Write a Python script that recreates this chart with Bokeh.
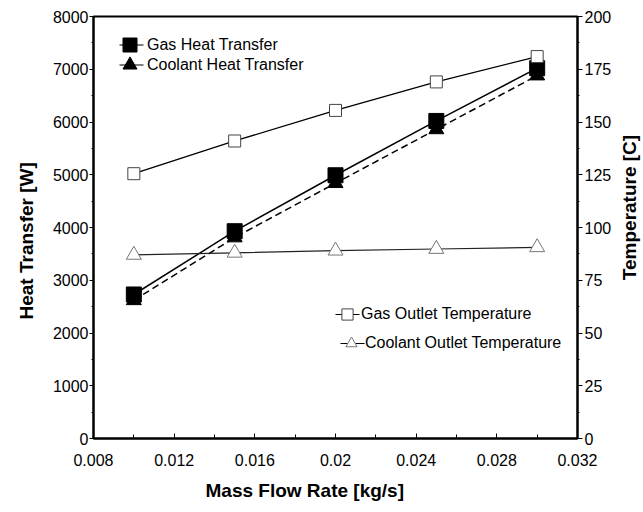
import math
from bokeh.plotting import figure
from bokeh.models import LinearAxis, Range1d, Legend, LegendItem, SingleIntervalTicker, Title, Label
from bokeh.embed import file_html
from bokeh.resources import INLINE

# ---- data ----
mass_flow = [0.010, 0.015, 0.020, 0.025, 0.030]
gas_heat = [2730, 3930, 4990, 6020, 7020]
coolant_heat = [2620, 3810, 4840, 5860, 6880]
gas_outlet_temp = [125.5, 141.0, 155.5, 169.0, 181.0]
coolant_outlet_temp = [87.0, 88.0, 89.0, 89.8, 90.6]

x_label = "Mass Flow Rate  [kg/s]"
y_label = "Heat Transfer  [W]"
y2_label = "Temperature [C]"

FONT = "Liberation Sans"

p = figure(width=643, height=512, output_backend="svg", toolbar_location=None,
           x_range=Range1d(0.008, 0.032), y_range=Range1d(0, 8000),
           min_border_left=93, min_border_right=66, min_border_top=16, min_border_bottom=74)
p.extra_y_ranges = {"temp": Range1d(0, 200)}

p.xgrid.visible = False
p.ygrid.visible = False
p.outline_line_color = "black"
p.outline_line_width = 2
p.background_fill_color = "white"
p.border_fill_color = "white"

# x axis
xa = p.xaxis[0]
xa.ticker = SingleIntervalTicker(interval=0.004, num_minor_ticks=2)
xa.major_label_overrides = {0.008: "0.008", 0.012: "0.012", 0.016: "0.016", 0.02: "0.02",
                            0.024: "0.024", 0.028: "0.028", 0.032: "0.032"}

# left axis
ya = p.yaxis[0]
ya.ticker = SingleIntervalTicker(interval=1000, num_minor_ticks=2)

# right axis with ticks
ra = LinearAxis(y_range_name="temp", ticker=SingleIntervalTicker(interval=25, num_minor_ticks=2))
p.add_layout(ra, "right")

for ax in (xa, ya, ra):
    ax.axis_line_color = "black"
    ax.axis_line_width = 2
    ax.major_tick_line_color = "black"
    ax.minor_tick_line_color = "black"
    ax.major_tick_line_width = 1
    ax.minor_tick_line_width = 1
    ax.major_label_text_font = FONT
    ax.major_label_text_font_size = "16px"
    ax.major_label_text_color = "black"

xa.major_tick_in = 5
xa.major_tick_out = 0
xa.minor_tick_in = 4
xa.minor_tick_out = 0
xa.major_label_standoff = 15

ya.major_tick_in = 0
ya.major_tick_out = 4
ya.minor_tick_in = 0
ya.minor_tick_out = 2
ya.major_label_standoff = 1

ra.major_tick_in = 0
ra.major_tick_out = 5
ra.minor_tick_in = 0
ra.minor_tick_out = 2
ra.major_label_standoff = 2

# right-hand title (reads bottom-to-top), placed in the right side panel
rlab = Label(x=15, y=231, x_units="screen", y_units="screen", text=y2_label, angle=math.pi / 2,
             text_font=FONT, text_font_style="bold", text_font_size="19px", text_color="black",
             text_align="center", text_baseline="middle")
p.add_layout(rlab, "right")

# x and left axis titles
def side_title(text, offset, standoff):
    return Title(text=text, align="left", offset=offset, standoff=standoff,
                 text_font=FONT, text_font_style="bold", text_font_size="19px",
                 text_color="black")

p.add_layout(side_title(x_label, 112, 18), "below")
p.add_layout(side_title(y_label, 119, 26), "left")

# series
l1 = p.line(mass_flow, gas_heat, line_color="black", line_width=1.5)
s1 = p.scatter(mass_flow, gas_heat, marker="square", size=15, fill_color="black", line_color="black")
l2 = p.line(mass_flow, coolant_heat, line_color="black", line_width=1.5, line_dash="7 4")
s2 = p.scatter(mass_flow, coolant_heat, marker="triangle", size=15, fill_color="black", line_color="black")
l3 = p.line(mass_flow, gas_outlet_temp, line_color="black", line_width=1.3, y_range_name="temp")
s3 = p.scatter(mass_flow, gas_outlet_temp, marker="square", size=12, fill_color="white",
               line_color="#444444", line_width=1, y_range_name="temp")
l4 = p.line(mass_flow, coolant_outlet_temp, line_color="#222222", line_width=1.2, y_range_name="temp")
s4 = p.scatter(mass_flow, coolant_outlet_temp, marker="triangle", size=15, fill_color="white",
               line_color="#777777", line_width=1, y_range_name="temp")

# hidden copies of the lines, used only for short legend line stubs
k1 = p.line(mass_flow, gas_heat, line_color="black", line_width=1.2, line_dash="0 7 24 100", visible=False)
k2 = p.line(mass_flow, coolant_heat, line_color="black", line_width=1.2, line_dash="0 7 24 100", visible=False)
k3 = p.line(mass_flow, gas_outlet_temp, line_color="black", line_width=1.1, line_dash="0 2 24 100",
            y_range_name="temp", visible=False)
k4 = p.line(mass_flow, coolant_outlet_temp, line_color="black", line_width=1.1, line_dash="0 3 24 100",
            y_range_name="temp", visible=False)


def make_legend(label, renderers, loc, g):
    lg = Legend(items=[LegendItem(label=label, renderers=renderers)], location=loc,
                orientation="vertical")
    lg.border_line_alpha = 0
    lg.background_fill_alpha = 0
    lg.padding = 0
    lg.margin = 0
    lg.spacing = 0
    lg.glyph_width = g
    lg.glyph_height = g
    lg.label_height = g
    lg.label_standoff = 0
    lg.label_text_font = FONT
    lg.label_text_font_size = "16px"
    lg.label_text_color = "black"
    return lg


p.add_layout(make_legend("Gas Heat Transfer", [k1, s1], (19, 376), 35))
p.add_layout(make_legend("Coolant Heat Transfer", [k2, s2], (19, 356), 35))
p.add_layout(make_legend("Gas Outlet Temperature", [k3, s3], (240, 110), 28))
p.add_layout(make_legend("Coolant Outlet Temperature", [k4, s4], (244, 81), 28))

open("out.html", "w").write(file_html(p, INLINE))
